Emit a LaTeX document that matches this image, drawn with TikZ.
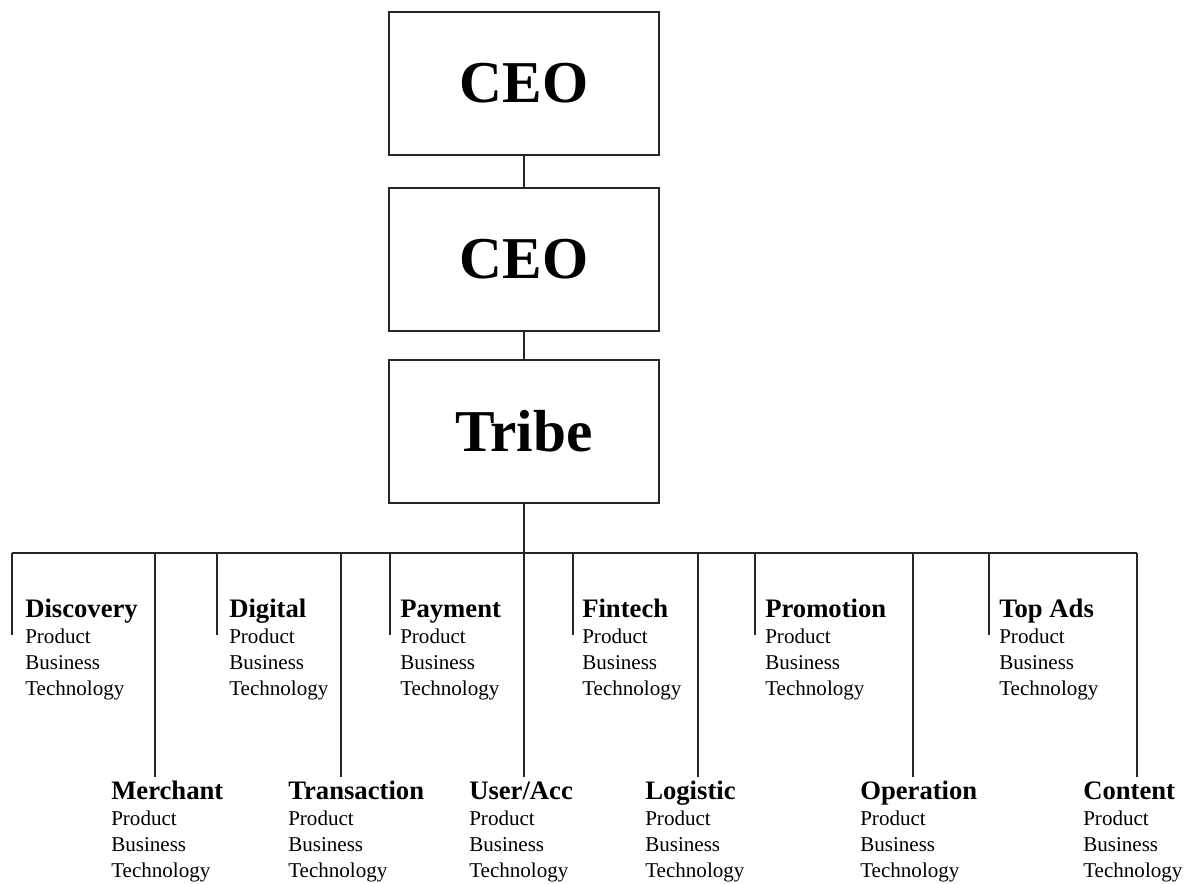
\documentclass[tikz,border=0pt]{standalone}
\usepackage{fontspec}
\setmainfont{Liberation Serif}
\newcommand{\unitblock}[1]{\vtop{\baselineskip=19.6pt\lineskiplimit=-30pt\lineskip=0pt
\hbox{\fontsize{20}{20}\bfseries #1}%
\hbox{\fontsize{15.8}{20}\selectfont Product}%
\hbox{\fontsize{15.8}{20}\selectfont Business}%
\hbox{\fontsize{15.8}{20}\selectfont Technology}}}
\begin{document}
\begin{tikzpicture}[x=0.75pt,y=-0.75pt,
  bigbox/.style={draw=black!85,line width=1.2pt,minimum width=202.5pt,minimum height=107.25pt,inner sep=0pt,font=\fontsize{44.5}{50}\bfseries},
  unit/.style={anchor=base west,inner sep=0pt},
  conn/.style={draw=black!85,line width=1.1pt}]
\useasboundingbox (0,0) rectangle (1199,883);
\node[bigbox] (ceoA) at (524,83.5) {CEO};
\node[bigbox] (ceoB) at (524,259.5) {CEO};
\node[bigbox] (tribe) at (524,431.5) {Tribe};
\draw[conn] (ceoA) -- (ceoB);
\draw[conn] (ceoB) -- (tribe);
\coordinate (busL) at (12,553);
\coordinate (busR) at (1137,553);
\draw[conn] (tribe.south) -- (tribe.south |- busL);
\draw[conn] (busL) -- (busR);
% drop ends
\coordinate (dDisc) at (12,635);
\coordinate (dDig) at (217,635);
\coordinate (dPay) at (390,635);
\coordinate (dFin) at (573,635);
\coordinate (dProm) at (755,635);
\coordinate (dTop) at (989,635);
\coordinate (dMer) at (155,777);
\coordinate (dTra) at (341,777);
\coordinate (dUse) at (524,777);
\coordinate (dLog) at (698,777);
\coordinate (dOpe) at (913,777);
\coordinate (dCon) at (1137,777);
\foreach \d in {dDisc,dDig,dPay,dFin,dProm,dTop,dMer,dTra,dLog,dOpe,dCon}
  \draw[conn] (\d |- busL) -- (\d);
\draw[conn] (tribe.south |- busL) -- (dUse);
% units
\node[unit] (uDisc) at (25,617) {\unitblock{Discovery}};
\node[unit] (uDig) at (229,617) {\unitblock{Digital}};
\node[unit] (uPay) at (400,617) {\unitblock{Payment}};
\node[unit] (uFin) at (582,617) {\unitblock{Fintech}};
\node[unit] (uProm) at (765,617) {\unitblock{Promotion}};
\node[unit] (uTop) at (999,617) {\unitblock{Top Ads}};
\node[unit] (uMer) at (111,799) {\unitblock{Merchant}};
\node[unit] (uTra) at (288,799) {\unitblock{Transaction}};
\node[unit] (uUse) at (469,799) {\unitblock{User/Acc}};
\node[unit] (uLog) at (645,799) {\unitblock{Logistic}};
\node[unit] (uOpe) at (860,799) {\unitblock{Operation}};
\node[unit] (uCon) at (1083,799) {\unitblock{Content}};
\end{tikzpicture}
\end{document}
